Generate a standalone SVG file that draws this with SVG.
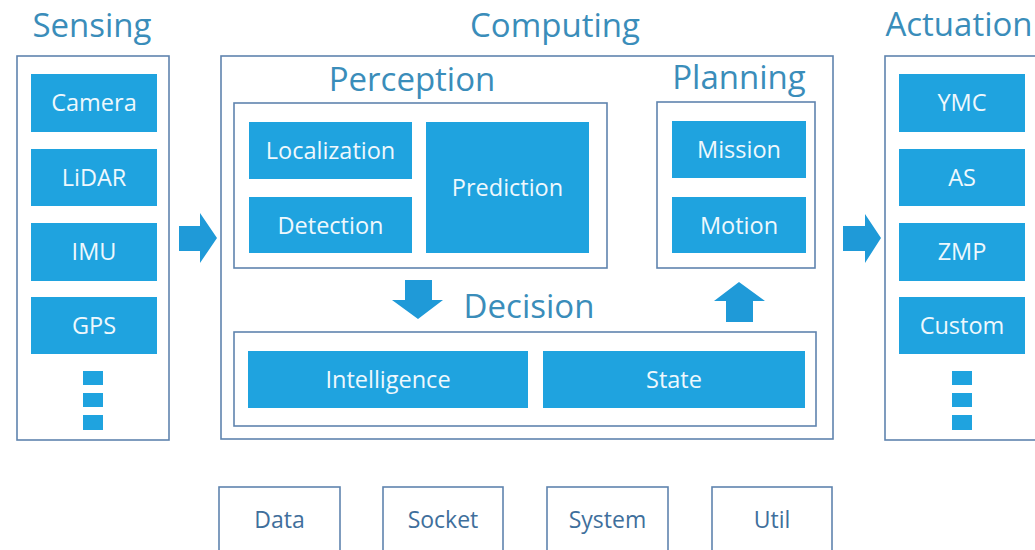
<svg xmlns="http://www.w3.org/2000/svg" width="1035" height="550" viewBox="0 0 1035 550">
<defs>
<style>
.frame{fill:#ffffff;stroke:#5f84ae;stroke-width:1.6}
.box{fill:#1fa3df}
.lbl{font-family:"Open Sans","Noto Sans",sans-serif;font-size:23.5px;fill:#eef8fd;text-anchor:middle}
.title{font-family:"Open Sans","Noto Sans",sans-serif;font-size:33px;fill:#3a8dba;text-anchor:middle}
.util{font-family:"Open Sans","Noto Sans",sans-serif;font-size:23px;fill:#3f6f9c;text-anchor:middle}
.arrow{fill:#1f9ad8}
</style>
</defs>
<rect width="1035" height="550" fill="#ffffff"/>

<g id="sensing">
<text class="title" x="92" y="37">Sensing</text>
<rect class="frame" x="17" y="56" width="152" height="384"/>
<g id="camera"><rect class="box" x="31" y="74" width="126" height="58"/><text class="lbl" x="94" y="111">Camera</text></g>
<g id="lidar"><rect class="box" x="31" y="149" width="126" height="57"/><text class="lbl" x="94" y="186">LiDAR</text></g>
<g id="imu"><rect class="box" x="31" y="223" width="126" height="58"/><text class="lbl" x="94" y="260">IMU</text></g>
<g id="gps"><rect class="box" x="31" y="297" width="126" height="57"/><text class="lbl" x="94" y="334">GPS</text></g>
<g id="sensing-more"><rect class="box" x="83" y="371" width="20" height="14"/><rect class="box" x="83" y="393" width="20" height="14"/><rect class="box" x="83" y="415" width="20" height="15"/></g>
</g>

<g id="computing">
<text class="title" x="555" y="37">Computing</text>
<rect class="frame" x="221" y="56" width="612" height="383"/>
</g>

<g id="perception">
<text class="title" x="412" y="91">Perception</text>
<rect class="frame" x="234" y="103" width="373" height="165"/>
<g id="localization"><rect class="box" x="249" y="122" width="163" height="57"/><text class="lbl" x="330.5" y="159">Localization</text></g>
<g id="detection"><rect class="box" x="249" y="197" width="163" height="56"/><text class="lbl" x="330.5" y="234">Detection</text></g>
<g id="prediction"><rect class="box" x="426" y="122" width="163" height="131"/><text class="lbl" x="507.5" y="196">Prediction</text></g>
</g>

<g id="planning">
<text class="title" x="739" y="89">Planning</text>
<rect class="frame" x="657" y="102" width="158" height="166"/>
<g id="mission"><rect class="box" x="672" y="121" width="134" height="57"/><text class="lbl" x="739" y="158">Mission</text></g>
<g id="motion"><rect class="box" x="672" y="197" width="134" height="56"/><text class="lbl" x="739" y="234">Motion</text></g>
</g>

<g id="decision">
<text class="title" x="529" y="318">Decision</text>
<rect class="frame" x="234" y="332" width="582" height="94"/>
<g id="intelligence"><rect class="box" x="248" y="351" width="280" height="57"/><text class="lbl" x="388" y="388">Intelligence</text></g>
<g id="state"><rect class="box" x="543" y="351" width="262" height="57"/><text class="lbl" x="674" y="388">State</text></g>
</g>

<g id="actuation">
<text class="title" x="959" y="36">Actuation</text>
<rect class="frame" x="885" y="56" width="160" height="384"/>
<g id="ymc"><rect class="box" x="899" y="74" width="126" height="58"/><text class="lbl" x="962" y="111">YMC</text></g>
<g id="as"><rect class="box" x="899" y="149" width="126" height="57"/><text class="lbl" x="962" y="186">AS</text></g>
<g id="zmp"><rect class="box" x="899" y="223" width="126" height="58"/><text class="lbl" x="962" y="260">ZMP</text></g>
<g id="custom"><rect class="box" x="899" y="297" width="126" height="57"/><text class="lbl" x="962" y="334">Custom</text></g>
<g id="actuation-more"><rect class="box" x="952" y="371" width="20" height="14"/><rect class="box" x="952" y="393" width="20" height="14"/><rect class="box" x="952" y="415" width="20" height="15"/></g>
</g>

<g id="utilities">
<g id="data"><rect class="frame" x="219" y="487" width="121" height="80"/><text class="util" x="279.5" y="528">Data</text></g>
<g id="socket"><rect class="frame" x="383" y="487" width="120" height="80"/><text class="util" x="443" y="528">Socket</text></g>
<g id="system"><rect class="frame" x="547" y="487" width="121" height="80"/><text class="util" x="607.5" y="528">System</text></g>
<g id="util"><rect class="frame" x="712" y="487" width="120" height="80"/><text class="util" x="772" y="528">Util</text></g>
</g>

<g id="connectors">
<polygon class="arrow" points="179,226 200,226 200,213 217,238 200,263 200,251 179,251"/>
<polygon class="arrow" points="843,226 865,226 865,214 881,238 865,263 865,251 843,251"/>
<polygon class="arrow" points="405,280 432,280 432,300 443,300 418,319 392,300 405,300"/>
<polygon class="arrow" points="739,282 765,301 753,301 753,322 726,322 726,301 714,301"/>
</g>
</svg>
